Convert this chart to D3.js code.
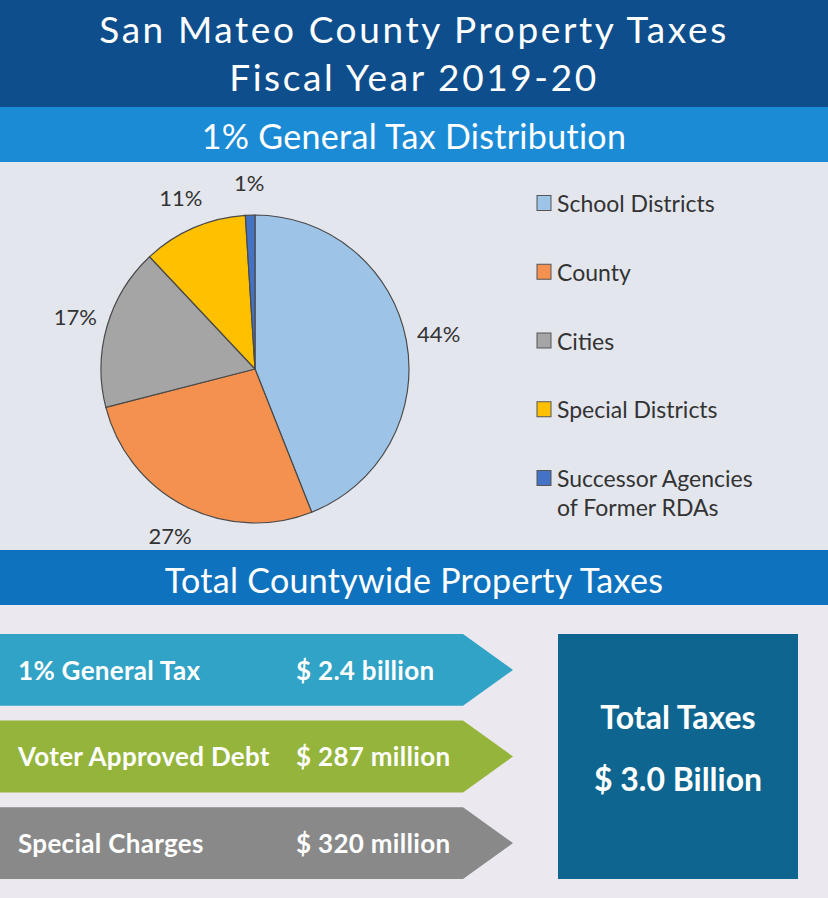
<!DOCTYPE html>
<html><head><meta charset="utf-8">
<script src="https://cdn.jsdelivr.net/npm/d3@7"></script>
<style>html,body{margin:0;padding:0;background:#ebe8f0;}svg{display:block;}</style>
</head><body>
<script>
const titleLines = ["San Mateo County Property Taxes", "Fiscal Year 2019-20"];
const pieTitle = "1% General Tax Distribution";
const categories = ["School Districts", "County", "Cities", "Special Districts", "Successor Agencies of Former RDAs"];
const legendLines = [["School Districts"], ["County"], ["Cities"], ["Special Districts"], ["Successor Agencies", "of Former RDAs"]];
const shares = [44, 27, 17, 11, 1];
const colors = ["#9dc3e6", "#f4914f", "#a5a5a5", "#ffc000", "#4472c4"];
const totalTitle = "Total Countywide Property Taxes";
const sources = ["1% General Tax", "Voter Approved Debt", "Special Charges"];
const amounts = ["$ 2.4 billion", "$ 287 million", "$ 320 million"];
const arrowColors = ["#31a3c6", "#95b43c", "#898989"];
const totalLines = ["Total Taxes", "$ 3.0 Billion"];

const W = 828, H = 898;
const svg = d3.select("body").append("svg").attr("width", W).attr("height", H);
const font = "Lato, 'Open Sans', sans-serif";

// bands
svg.append("rect").attr("x",0).attr("y",0).attr("width",W).attr("height",107).attr("fill","#0e4e8c");
svg.append("rect").attr("x",0).attr("y",107).attr("width",W).attr("height",55).attr("fill","#1b8bd5");
svg.append("rect").attr("x",0).attr("y",162).attr("width",W).attr("height",388).attr("fill","#e4e6ee");
svg.append("rect").attr("x",0).attr("y",550).attr("width",W).attr("height",55).attr("fill","#0e72be");
svg.append("rect").attr("x",0).attr("y",605).attr("width",W).attr("height",293).attr("fill","#ebe8f0");

svg.selectAll("text.title").data(titleLines).join("text").attr("class","title")
  .attr("x", W/2).attr("y", (d,i)=>28+i*48)
  .attr("text-anchor","middle").attr("dominant-baseline","central")
  .attr("fill","#fff").attr("font-family",font).attr("font-size",37)
  .attr("letter-spacing",2.6).text(d=>d);

svg.append("text").attr("x",W/2).attr("y",135).attr("text-anchor","middle").attr("dominant-baseline","central")
  .attr("fill","#fff").attr("font-family",font).attr("font-size",34).attr("letter-spacing",0.3).text(pieTitle);

svg.append("text").attr("x",W/2).attr("y",579).attr("text-anchor","middle").attr("dominant-baseline","central")
  .attr("fill","#fff").attr("font-family",font).attr("font-size",34).attr("letter-spacing",0.3).text(totalTitle);

// pie
const cx = 255, cy = 369, R = 154;
const pie = d3.pie().sort(null).value(d=>d)(shares);
const arc = d3.arc().innerRadius(0).outerRadius(R);
const labelArc = d3.arc().innerRadius(187).outerRadius(187);
const g = svg.append("g").attr("transform",`translate(${cx},${cy})`);
g.selectAll("path").data(pie).join("path")
  .attr("d",arc).attr("fill",(d,i)=>colors[i]).attr("stroke","#4a4a4a").attr("stroke-width",1.2);
g.selectAll("text").data(pie).join("text")
  .attr("transform",d=>`translate(${labelArc.centroid(d)})`)
  .attr("text-anchor","middle").attr("dominant-baseline","central")
  .attr("font-family",font).attr("font-size",22).attr("fill","#333")
  .text(d=>d.data+"%");

// legend
const ly = d3.scalePoint().domain(categories).range([203,478]);
const lg = svg.append("g");
const items = lg.selectAll("g").data(categories).join("g").attr("transform",d=>`translate(537,${ly(d)})`);
items.append("rect").attr("x",0).attr("y",-7.5).attr("width",14).attr("height",15)
  .attr("fill",(d,i)=>colors[i]).attr("stroke","#555").attr("stroke-width",1);
items.each(function(d,i){
  d3.select(this).selectAll("text").data(legendLines[i]).join("text")
    .attr("x",20).attr("y",(t,j)=>j*29).attr("dominant-baseline","central")
    .attr("font-family",font).attr("font-size",23).attr("fill","#333").text(t=>t);
});

// arrows
const ay = d3.scaleBand().domain(sources).range([634,879]).paddingInner(0.17);
const bodyEnd = 463, tip = 513;
const ag = svg.append("g");
const rows = ag.selectAll("g").data(sources).join("g").attr("transform",d=>`translate(0,${ay(d)})`);
const h = ay.bandwidth();
rows.append("path").attr("d",`M0,0H${bodyEnd}L${tip},${h/2}L${bodyEnd},${h}H0Z`).attr("fill",(d,i)=>arrowColors[i]);
rows.append("text").attr("x",18).attr("y",h/2).attr("dominant-baseline","central")
  .attr("fill","#fff").attr("font-family",font).attr("font-weight","bold").attr("font-size",26).attr("letter-spacing",0.3).text(d=>d);
rows.append("text").attr("x",296).attr("y",h/2).attr("dominant-baseline","central")
  .attr("fill","#fff").attr("font-family",font).attr("font-weight","bold").attr("font-size",26).attr("letter-spacing",0.3).text((d,i)=>amounts[i]);

svg.append("rect").attr("x",558).attr("y",634).attr("width",240).attr("height",245).attr("fill","#0e6690");
svg.selectAll("text.total").data(totalLines).join("text").attr("class","total")
  .attr("x",678).attr("y",(d,i)=>716+i*62).attr("text-anchor","middle").attr("dominant-baseline","central")
  .attr("fill","#fff").attr("font-family",font).attr("font-weight","bold").attr("font-size",32).text(d=>d);
</script>
</body></html>
